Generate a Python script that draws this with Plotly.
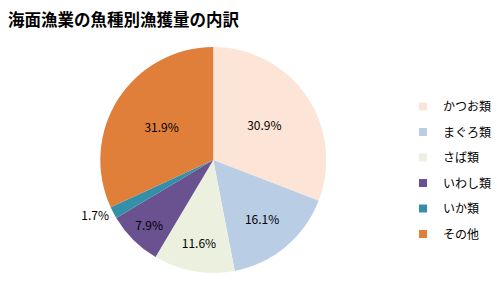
import plotly.graph_objects as go

labels = ["かつお類", "まぐろ類", "さば類", "いわし類", "いか類", "その他"]
values = [30.9, 16.1, 11.6, 7.9, 1.7, 31.9]
colors = ["#FCE4D6", "#B9CDE5", "#EBF1DE", "#6A5290", "#3490A8", "#DF7F3A"]
text_positions = ["inside", "inside", "inside", "inside", "outside", "inside"]
title_text = "海面漁業の魚種別漁獲量の内訳"

W, H = 497, 298
cx, cy, D = 219, 160, 232

fig = go.Figure()
fig.add_trace(go.Pie(
    labels=labels,
    values=values,
    sort=False,
    direction="clockwise",
    rotation=0,
    marker=dict(colors=colors, line=dict(width=0)),
    texttemplate="%{percent:.1%}",
    textposition=text_positions,
    textfont=dict(size=12, color="#000000", family="Noto Sans CJK JP"),
    insidetextorientation="horizontal",
    hoverinfo="label+percent",
    showlegend=False,
    domain=dict(x=[(cx - D / 2) / W, (cx + D / 2) / W],
                y=[1 - (cy + D / 2) / H, 1 - (cy - D / 2) / H]),
))

# legend entries (one group per category so the spacing matches)
for lab, col in zip(labels, colors):
    fig.add_trace(go.Scatter(
        x=[None], y=[None], mode="markers", name=lab, legendgroup=lab,
        marker=dict(symbol="square", size=8, color=col),
        hoverinfo="skip",
    ))

fig.update_xaxes(visible=False)
fig.update_yaxes(visible=False)

fig.update_layout(
    width=W, height=H,
    margin=dict(l=0, r=0, t=0, b=0),
    paper_bgcolor="white",
    plot_bgcolor="white",
    font=dict(family="Noto Sans CJK JP", color="#000000"),
    title=dict(text="<b>" + title_text + "</b>", x=8 / W, xanchor="left",
               y=1 - 20 / H, yanchor="middle",
               font=dict(size=16.5, color="#000000", family="Noto Sans CJK JP")),
    legend=dict(x=414 / W, xanchor="left", y=1 - 92 / H, yanchor="top",
                font=dict(size=12, color="#000000", family="Noto Sans CJK JP"),
                bgcolor="rgba(0,0,0,0)", itemwidth=30, traceorder="grouped",
                tracegroupgap=6.5),
    showlegend=True,
)

fig.write_html("out.html")
